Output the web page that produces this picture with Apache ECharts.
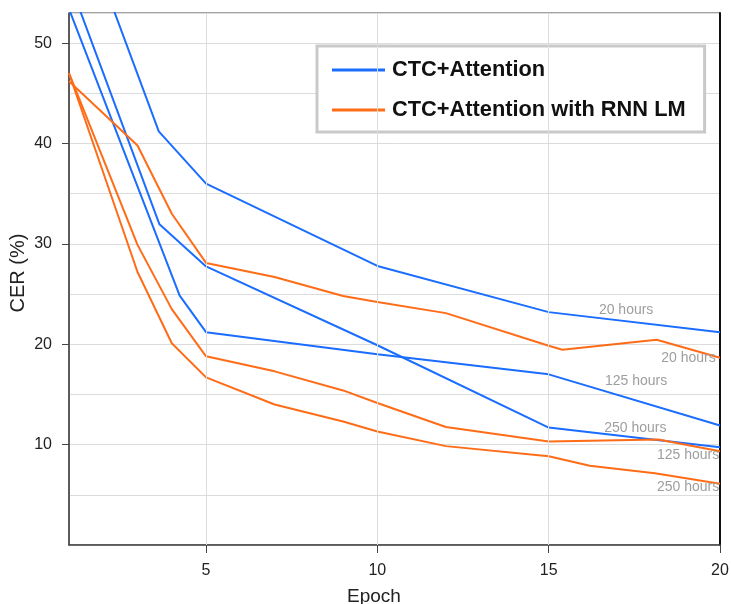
<!DOCTYPE html>
<html>
<head>
<meta charset="utf-8">
<script src="https://cdn.jsdelivr.net/npm/echarts@6/dist/echarts.min.js"></script>
<style>
  html, body { margin: 0; padding: 0; background: #fff; }
  #chart { width: 731px; height: 604px; }
</style>
</head>
<body>
<div id="chart"></div>
<script>
// CTC+Attention (blue), epoch -> CER
var blue20X = [1, 3.62, 5, 10, 15, 20];
var blue20Y = [65.3, 41.2, 36.0, 27.8, 23.2, 21.2];
var blue125X = [1, 4.23, 5, 10, 15, 20];
var blue125Y = [53.4, 24.85, 21.2, 19.0, 17.0, 11.9];
var blue250X = [1, 3.64, 5, 10, 15, 20];
var blue250Y = [56.2, 31.95, 27.75, 19.9, 11.7, 9.75];

// CTC+Attention with RNN LM (orange)
var orange20X = [1, 3, 4, 5, 7, 9, 10, 12, 15, 15.4, 18.15, 20];
var orange20Y = [46.2, 39.8, 33.0, 28.1, 26.7, 24.8, 24.2, 23.1, 19.85, 19.45, 20.45, 18.65];
var orange125X = [1, 3, 4, 5, 7, 9, 10, 12, 15, 18.2, 20];
var orange125Y = [47.0, 29.9, 23.5, 18.8, 17.3, 15.4, 14.15, 11.75, 10.3, 10.5, 9.35];
var orange250X = [1, 3, 4, 5, 7, 9, 10, 12, 15, 16.2, 18.1, 20];
var orange250Y = [47.0, 27.2, 20.1, 16.7, 14.0, 12.3, 11.3, 9.85, 8.85, 7.9, 7.15, 6.1];

// hour labels placed next to the curves
var blueLabels = ['20 hours', '125 hours', '250 hours'];
var blueLabelX = [17.26, 17.55, 17.53];
var blueLabelY = [23.42, 16.35, 11.68];
var orangeLabels = ['20 hours', '125 hours', '250 hours'];
var orangeLabelX = [19.08, 19.07, 19.07];
var orangeLabelY = [18.58, 8.95, 5.75];

var yTicks = [10, 20, 30, 40, 50];
var xTicks = [5, 10, 15, 20];
var xGridLines = [5, 10, 15];

var seriesNames = ['CTC+Attention', 'CTC+Attention with RNN LM'];
var blue = '#1a6dff';
var orange = '#ff6c17';
var font = 'Liberation Sans, Arial, sans-serif';

function pairs(xs, ys) {
  var out = [];
  for (var i = 0; i < xs.length; i++) out.push([xs[i], ys[i]]);
  return out;
}

function labelPoint(text, x, y) {
  return {
    coord: [x, y],
    symbol: 'circle',
    symbolSize: 1,
    itemStyle: { color: 'rgba(0,0,0,0)' },
    label: { show: true, position: 'inside', formatter: text,
             color: '#9e9e9e', fontSize: 14, fontFamily: font }
  };
}

function makeLine(name, color, xs, ys, labelText, lx, ly) {
  return {
    name: name,
    type: 'line',
    data: pairs(xs, ys),
    showSymbol: false,
    symbol: 'none',
    color: color,
    lineStyle: { color: color, width: 2 },
    silent: true,
    markPoint: { silent: true, data: [labelPoint(labelText, lx, ly)] }
  };
}

var seriesArray = [];
// vertical grid lines through the x scale
seriesArray.push({
  type: 'line',
  data: [],
  silent: true,
  markLine: {
    silent: true,
    symbol: 'none',
    label: { show: false },
    lineStyle: { color: '#dcdcdc', width: 1, type: 'solid' },
    data: xGridLines.map(function (v) { return { xAxis: v }; })
  },
  z: 1
});
var bx = [blue20X, blue125X, blue250X], by = [blue20Y, blue125Y, blue250Y];
var ox = [orange20X, orange125X, orange250X], oy = [orange20Y, orange125Y, orange250Y];
for (var i = 0; i < 3; i++) {
  seriesArray.push(makeLine(seriesNames[0], blue, bx[i], by[i], blueLabels[i], blueLabelX[i], blueLabelY[i]));
}
for (var j = 0; j < 3; j++) {
  seriesArray.push(makeLine(seriesNames[1], orange, ox[j], oy[j], orangeLabels[j], orangeLabelX[j], orangeLabelY[j]));
}

var myChart = echarts.init(document.getElementById('chart'), null, { renderer: 'canvas' });
var option = {
  animation: false,
  backgroundColor: '#fff',
  textStyle: { fontFamily: font },
  grid: {
    left: 69, right: 11, top: 13, bottom: 59,
    containLabel: false,
    outerBoundsMode: 'none',
    show: true, borderColor: '#444', borderWidth: 1, backgroundColor: 'transparent'
  },
  legend: {
    data: seriesNames,
    orient: 'vertical',
    left: 317, top: 46,
    padding: [13, 19, 11, 15],
    itemGap: 18,
    itemWidth: 53,
    itemHeight: 3,
    icon: 'rect',
    borderColor: '#c9c9c9',
    borderWidth: 3,
    backgroundColor: '#fff',
    textStyle: { fontSize: 21.8, fontWeight: 'bold', color: '#111', fontFamily: font, padding: [0, 0, 0, 2] }
  },
  xAxis: {
    type: 'value',
    min: 1, max: 20,
    name: 'Epoch',
    nameLocation: 'middle',
    nameGap: 42,
    nameMoveOverlap: false,
    nameTextStyle: { fontSize: 19, color: '#222', fontFamily: font, padding: [0, 41, 0, 0] },
    axisLine: { show: true, onZero: false, lineStyle: { color: '#444', width: 1.5 } },
    axisTick: { show: true, inside: false, length: 8, customValues: xTicks, lineStyle: { color: '#444' } },
    axisLabel: { customValues: xTicks, fontSize: 16, color: '#222', margin: 18, fontFamily: font },
    splitLine: { show: false }
  },
  yAxis: [{
    type: 'value',
    min: 0, max: 53, interval: 10,
    name: 'CER (%)',
    nameLocation: 'middle',
    nameGap: 41,
    nameMoveOverlap: false,
    nameTextStyle: { fontSize: 20, color: '#222', fontFamily: font, padding: [0, 0, 0, 12] },
    axisLine: { show: true, onZero: false, lineStyle: { color: '#444', width: 1.5 } },
    axisTick: { show: true, length: 7, customValues: yTicks, lineStyle: { color: '#444' } },
    axisLabel: { customValues: yTicks, fontSize: 16, color: '#222', margin: 17, fontFamily: font },
    splitLine: { show: false }
  }, {
    // right border + the 5-step horizontal grid lines
    type: 'value',
    position: 'right',
    min: 0, max: 53, interval: 5,
    axisLine: { show: true, lineStyle: { color: '#111', width: 2 } },
    axisTick: { show: false },
    axisLabel: { show: false },
    splitLine: { show: true, lineStyle: { color: '#dcdcdc', width: 1 } }
  }],
  series: seriesArray
};
myChart.setOption(option);
</script>
</body>
</html>
